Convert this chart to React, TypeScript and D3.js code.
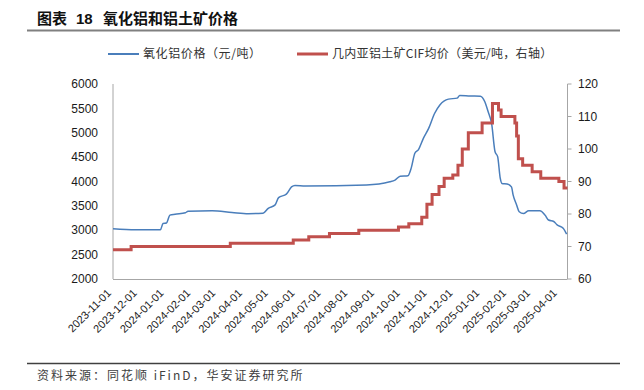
import React from "react";
import * as d3 from "d3";

const W = 644;
const H = 390;

const titleParts = ["图表", "18", "氧化铝和铝土矿价格"];
const sourceText = "资料来源：同花顺 iFinD，华安证券研究所";
const seriesNames = ["氧化铝价格（元/吨）", "几内亚铝土矿CIF均价（美元/吨，右轴）"];

const xTickLabels = [
  "2023-11-01", "2023-12-01", "2024-01-01", "2024-02-01", "2024-03-01", "2024-04-01",
  "2024-05-01", "2024-06-01", "2024-07-01", "2024-08-01", "2024-09-01", "2024-10-01",
  "2024-11-01", "2024-12-01", "2025-01-01", "2025-02-01", "2025-03-01", "2025-04-01",
];
const leftTicks = [2000, 2500, 3000, 3500, 4000, 4500, 5000, 5500, 6000];
const rightTicks = [60, 70, 80, 90, 100, 110, 120];

const domainStart = "2023-11-01";
const domainEnd = "2025-04-11";

// 氧化铝价格（元/吨）
const aluminaDates = [
  "2023-11-01", "2023-11-27", "2023-12-26", "2023-12-29", "2024-01-02", "2024-01-06",
  "2024-01-12", "2024-01-24", "2024-01-27", "2024-02-24", "2024-03-18", "2024-04-06",
  "2024-04-23", "2024-04-29", "2024-05-07", "2024-05-11", "2024-05-20", "2024-05-26",
  "2024-05-30", "2024-06-11", "2024-08-21", "2024-09-17", "2024-09-23", "2024-09-29",
  "2024-10-08", "2024-10-12", "2024-10-16", "2024-10-20", "2024-10-26", "2024-11-01",
  "2024-11-08", "2024-11-14", "2024-11-24", "2024-12-04", "2024-12-07", "2024-12-19",
  "2024-12-31", "2025-01-05", "2025-01-09", "2025-01-13", "2025-01-17", "2025-01-20",
  "2025-01-23", "2025-01-25", "2025-01-31", "2025-02-05", "2025-02-07", "2025-02-11",
  "2025-02-14", "2025-02-19", "2025-02-25", "2025-03-10", "2025-03-16", "2025-03-20",
  "2025-03-26", "2025-03-30", "2025-04-06", "2025-04-10",
];
const aluminaValues = [
  3030, 3010, 3010, 3140, 3150, 3310,
  3330, 3360, 3390, 3400, 3365, 3340,
  3350, 3450, 3520, 3670, 3740, 3890,
  3920, 3910, 3930, 3995, 4030, 4110,
  4120, 4290, 4580, 4650, 4890, 5090,
  5400, 5570, 5690, 5710, 5765, 5755,
  5750, 5640, 5430, 5190, 4610, 4510,
  4070, 3960, 3950, 3890, 3720, 3520,
  3380, 3345, 3400, 3400, 3310, 3210,
  3180, 3110, 3040, 2920,
];

// 几内亚铝土矿CIF均价（美元/吨）
const bauxiteDates = [
  "2023-11-01", "2023-11-22", "2024-03-16", "2024-05-28", "2024-06-15", "2024-07-09",
  "2024-08-12", "2024-09-27", "2024-10-09", "2024-10-24", "2024-10-30", "2024-11-05",
  "2024-11-13", "2024-11-19", "2024-11-29", "2024-12-05", "2024-12-10", "2024-12-17",
  "2025-01-02", "2025-01-14", "2025-01-21", "2025-01-24", "2025-02-09", "2025-02-11",
  "2025-02-13", "2025-02-18", "2025-03-01", "2025-03-11", "2025-04-01", "2025-04-07",
  "2025-04-11",
];
const bauxiteValues = [
  69, 70, 71, 72, 73, 74,
  75, 76, 77, 79, 83, 86,
  88.5, 91, 92, 95, 100, 105,
  108, 114, 112, 110, 108, 104,
  97, 95, 93, 91, 90, 88,
  88,
];

const BLUE = "#4a7ebb";
const RED = "#c0504d";
const AXIS = "#a6a6a6";
const NUM_FONT = "'Liberation Sans', Arial, sans-serif";
const CJK_FONT = "'Noto Sans CJK SC', 'Noto Sans', sans-serif";

const parse = d3.utcParse("%Y-%m-%d");

export default function App() {
  const left = 113;
  const right = 567.5;
  const top = 84;
  const bottom = 279;

  const x = d3.scaleUtc().domain([parse(domainStart)!, parse(domainEnd)!]).range([left, right]);
  const yL = d3.scaleLinear().domain([2000, 6000]).range([bottom, top]);
  const yR = d3.scaleLinear().domain([60, 120]).range([bottom, top]);

  const alumina = aluminaDates.map((d, i) => ({ d: parse(d)!, v: aluminaValues[i] }));
  const bauxite = bauxiteDates.map((d, i) => ({ d: parse(d)!, v: bauxiteValues[i] }));

  const blueLine = d3
    .line<{ d: Date; v: number }>()
    .x((p) => x(p.d))
    .y((p) => yL(p.v))
    .curve(d3.curveMonotoneX)(alumina);
  const redLine = d3
    .line<{ d: Date; v: number }>()
    .x((p) => x(p.d))
    .y((p) => yR(p.v))
    .curve(d3.curveStepAfter)(bauxite);

  return (
    <svg
      width={W}
      height={H}
      viewBox={`0 0 ${W} ${H}`}
      style={{ position: "absolute", left: 0, top: 0, background: "#fff" }}
    >
      <rect x={0} y={0} width={W} height={H} fill="#fff" />
      {/* title */}
      <text y={24} fontFamily={CJK_FONT} fontWeight={700} fontSize={15} fill="#111">
        <tspan x={37}>{titleParts[0]}</tspan>
        <tspan x={76} fontFamily={NUM_FONT}>{titleParts[1]}</tspan>
        <tspan x={103}>{titleParts[2]}</tspan>
      </text>
      <line x1={27} x2={620} y1={30.5} y2={30.5} stroke="#808080" strokeWidth={2} />

      {/* legend */}
      <line x1={108} x2={139} y1={54} y2={54} stroke={BLUE} strokeWidth={2} />
      <text x={143} y={54} dy="0.35em" fontFamily={CJK_FONT} fontSize={12} letterSpacing={0.6} fill="#333">
        {seriesNames[0]}
      </text>
      <line x1={297} x2={328} y1={54} y2={54} stroke={RED} strokeWidth={3} />
      <text x={332} y={54} dy="0.35em" fontFamily={CJK_FONT} fontSize={12} letterSpacing={0.3} fill="#333">
        {seriesNames[1]}
      </text>

      {/* axes */}
      <line x1={left} x2={left} y1={top} y2={bottom} stroke={AXIS} strokeWidth={1} />
      <line x1={left} x2={right} y1={bottom + 0.5} y2={bottom + 0.5} stroke={AXIS} strokeWidth={1} />
      <line x1={right} x2={right} y1={top} y2={bottom} stroke={AXIS} strokeWidth={1} />

      {leftTicks.map((t) => (
        <text
          key={`l${t}`}
          x={98}
          y={yL(t)}
          dy="0.35em"
          textAnchor="end"
          fontFamily={NUM_FONT}
          fontSize={12}
          fill="#1a1a1a"
        >
          {t}
        </text>
      ))}
      {rightTicks.map((t) => (
        <g key={`r${t}`}>
          <line x1={right} x2={right + 4} y1={yR(t)} y2={yR(t)} stroke={AXIS} strokeWidth={1} />
          <text
            x={578}
            y={yR(t)}
            dy="0.35em"
            textAnchor="start"
            fontFamily={NUM_FONT}
            fontSize={12}
            fill="#1a1a1a"
          >
            {t}
          </text>
        </g>
      ))}
      {xTickLabels.map((lab) => {
        const tx = x(parse(lab)!);
        return (
          <text
            key={lab}
            transform={`translate(${tx - 4},${291}) rotate(-45)`}
            dy="0.35em"
            textAnchor="end"
            fontFamily={NUM_FONT}
            fontSize={11}
            fill="#1a1a1a"
          >
            {lab}
          </text>
        );
      })}

      {/* series */}
      <path d={blueLine ?? ""} fill="none" stroke={BLUE} strokeWidth={1.5} />
      <path d={redLine ?? ""} fill="none" stroke={RED} strokeWidth={3} strokeLinejoin="miter" />

      {/* source */}
      <line x1={27} x2={620} y1={363.5} y2={363.5} stroke="#404040" strokeWidth={1.5} />
      <text
        x={37}
        y={376}
        dy="0.35em"
        fontFamily={CJK_FONT}
        fontSize={12}
        letterSpacing={2}
        fill="#404040"
      >
        {sourceText}
      </text>
    </svg>
  );
}
